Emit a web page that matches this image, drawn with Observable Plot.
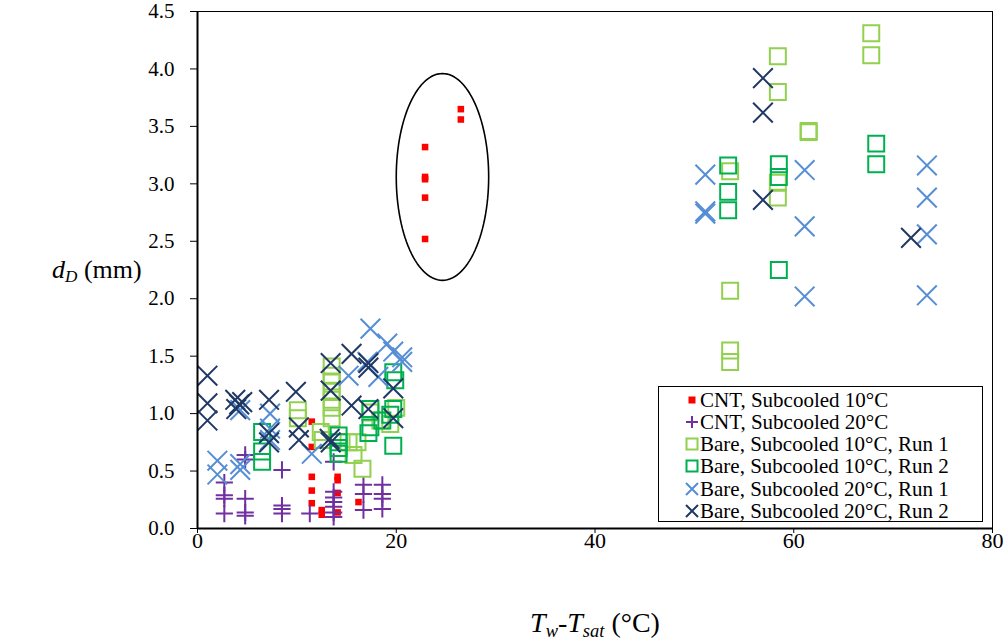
<!DOCTYPE html>
<html><head><meta charset="utf-8">
<script src="https://cdn.jsdelivr.net/npm/d3@7"></script>
<script src="https://cdn.jsdelivr.net/npm/@observablehq/plot@0.6"></script>
<style>
body{margin:0;background:#fff;}
#wrap{position:relative;width:1007px;height:641px;font-family:'Liberation Serif',LiberationSerif,Tinos,'Times New Roman',Times,'DejaVu Serif',serif;color:#000;}
#wrap svg.plot{position:absolute;left:0;top:0;}
#wrap svg.plot text{font-family:'Liberation Serif',LiberationSerif,Tinos,'Times New Roman',Times,'DejaVu Serif',serif;}
.ylab{position:absolute;left:52px;top:252px;font-size:26px;white-space:nowrap;line-height:36px;}
.xlab{position:absolute;left:395px;width:400px;text-align:center;top:605px;font-size:28px;white-space:nowrap;line-height:36px;}
.legend{position:absolute;left:658px;top:386px;width:323px;height:134px;border:1px solid #000;background:#fff;}
.legend .row{position:absolute;left:0;height:22px;line-height:22px;font-size:21px;white-space:nowrap;}
.legend .row svg{position:absolute;left:25px;top:3px;}
.legend .row span{position:absolute;left:41px;top:0;}
sub{font-size:0.66em;vertical-align:-0.25em;line-height:0;}
</style></head><body><div id="wrap"></div>
<script>
// ---- axis ticks ----
const xTicks = [0, 20, 40, 60, 80];
const yTicks = [0, 0.5, 1.0, 1.5, 2.0, 2.5, 3.0, 3.5, 4.0, 4.5];

// ---- series names ----
const seriesNames = [
  "CNT, Subcooled 10°C",
  "CNT, Subcooled 20°C",
  "Bare, Subcooled 10°C, Run 1",
  "Bare, Subcooled 10°C, Run 2",
  "Bare, Subcooled 20°C, Run 1",
  "Bare, Subcooled 20°C, Run 2"
];

// ---- CNT, Subcooled 10°C ----
const cnt10X = [11.5, 11.5, 11.5, 11.5, 11.5, 12.5, 12.5, 14.1, 14.1, 14.1, 14.1, 16.2, 22.9, 22.9, 22.9, 22.9, 22.9, 26.5, 26.5];
const cnt10Y = [0.93, 0.71, 0.45, 0.33, 0.22, 0.16, 0.12, 0.45, 0.42, 0.31, 0.14, 0.23, 3.32, 3.06, 3.04, 2.88, 2.52, 3.65, 3.56];

// ---- CNT, Subcooled 20°C ----
const cnt20X = [2.7, 2.7, 2.7, 2.7, 4.8, 4.8, 4.8, 4.8, 4.8, 8.5, 8.5, 8.5, 8.5, 11.3, 13.7, 13.7, 13.7, 13.7, 13.7, 13.7, 13.7, 16.7, 16.7, 16.7, 18.6, 18.6, 18.6, 18.6];
const cnt20Y = [0.40, 0.29, 0.26, 0.13, 0.64, 0.60, 0.26, 0.14, 0.11, 0.51, 0.20, 0.17, 0.13, 0.13, 0.58, 0.32, 0.27, 0.23, 0.19, 0.14, 0.10, 0.38, 0.30, 0.16, 0.38, 0.30, 0.26, 0.17];

// ---- Bare, Subcooled 10°C, Run 1 ----
const bare10r1X = [10.1, 10.1, 12.4, 12.6, 13.5, 13.5, 13.5, 13.5, 13.5, 13.5, 13.5, 15.2, 15.7, 16.6, 16.1, 17.4, 18.4, 19.4, 20.0, 53.6, 53.6, 53.6, 53.6, 58.4, 58.4, 58.4, 58.4, 61.5, 61.5, 67.8, 67.8];
const bare10r1Y = [1.03, 0.96, 0.84, 0.77, 1.41, 1.33, 1.28, 1.20, 1.12, 1.05, 0.96, 0.75, 0.64, 0.52, 0.75, 1.01, 0.94, 0.91, 1.05, 3.11, 2.07, 1.55, 1.45, 4.11, 3.80, 3.01, 2.88, 3.46, 3.45, 4.31, 4.12];

// ---- Bare, Subcooled 10°C, Run 2 ----
const bare10r2X = [6.5, 6.5, 6.5, 14.2, 14.2, 14.2, 14.2, 17.4, 17.4, 17.2, 18.6, 19.4, 19.7, 19.9, 19.7, 19.7, 53.4, 53.4, 53.4, 58.5, 58.5, 58.5, 68.3, 68.3];
const bare10r2Y = [0.84, 0.67, 0.58, 0.81, 0.75, 0.70, 0.65, 1.04, 0.88, 0.83, 0.94, 0.99, 1.36, 1.29, 1.04, 0.72, 3.16, 2.93, 2.77, 3.17, 3.06, 2.25, 3.35, 3.17];

// ---- Bare, Subcooled 20°C, Run 1 ----
const bare20r1X = [2.0, 2.0, 4.3, 4.3, 4.3, 7.3, 7.3, 7.3, 11.5, 15.2, 17.1, 17.4, 18.2, 19.1, 19.7, 20.6, 20.6, 51.1, 51.1, 51.1, 61.1, 61.1, 61.1, 73.4, 73.4, 73.4, 73.4];
const bare20r1Y = [0.59, 0.47, 0.56, 0.51, 1.03, 1.00, 0.87, 0.77, 0.65, 1.33, 1.45, 1.74, 1.32, 1.61, 1.54, 1.49, 1.45, 3.08, 2.76, 2.74, 3.12, 2.63, 2.02, 3.16, 2.88, 2.56, 2.03];

// ---- Bare, Subcooled 20°C, Run 2 ----
const bare20r2X = [1.0, 1.0, 1.0, 3.8, 4.2, 3.9, 4.5, 7.2, 7.2, 7.2, 9.9, 10.2, 10.2, 13.4, 13.4, 13.3, 13.4, 15.5, 15.5, 17.2, 17.2, 17.2, 19.7, 19.7, 56.9, 56.9, 56.9, 71.8];
const bare20r2Y = [1.33, 1.09, 0.94, 1.12, 1.08, 1.04, 1.10, 1.12, 0.83, 0.75, 1.19, 0.88, 0.77, 1.44, 1.20, 0.78, 0.75, 1.52, 1.07, 1.44, 1.40, 1.04, 1.22, 0.96, 3.92, 3.62, 2.86, 2.53];

// ---- highlight ellipse (centre and radii in data units) ----
const ellipseCenter = [24.65, 3.06];
const ellipseRadii = [4.65, 0.9];

// ---- styles ----
const colors = ["#FF0000", "#7030A0", "#92D050", "#00B050", "#558ED5", "#1F3864"];
const serif = "'Liberation Serif', LiberationSerif, Tinos, 'Times New Roman', Times, 'DejaVu Serif', serif";

const toRows = (xs, ys) => xs.map((x, i) => ({x, y: ys[i]}));
const s0 = toRows(cnt10X, cnt10Y), s1 = toRows(cnt20X, cnt20Y),
      s2 = toRows(bare10r1X, bare10r1Y), s3 = toRows(bare10r2X, bare10r2Y),
      s4 = toRows(bare20r1X, bare20r1Y), s5 = toRows(bare20r2X, bare20r2Y);

const ell = d3.range(0, 121).map(i => {
  const t = i / 120 * 2 * Math.PI;
  return {x: ellipseCenter[0] + ellipseRadii[0] * Math.cos(t), y: ellipseCenter[1] + ellipseRadii[1] * Math.sin(t)};
});

const chart = Plot.plot({
  width: 1007, height: 641,
  marginLeft: 197, marginRight: 15, marginTop: 11, marginBottom: 113,
  style: {fontFamily: serif, fontSize: "21px", color: "#000", background: "transparent"},
  x: {domain: [0, 80]},
  y: {domain: [0, 4.5]},
  marks: [
    Plot.frame({stroke: "#000", strokeWidth: 1}),
    Plot.axisX({ticks: xTicks, tickSize: 5, tickPadding: -1, label: null, fontSize: 22, tickFormat: d => d}),
    Plot.axisY({ticks: yTicks, tickSize: 7, tickPadding: 16, label: null, fontSize: 21, tickFormat: d3.format(".1f")}),
    Plot.line(ell, {x: "x", y: "y", stroke: "#000", strokeWidth: 1.6}),
    Plot.dot(s0, {x: "x", y: "y", symbol: "square", r: 3.7, fill: colors[0], stroke: "none"}),
    Plot.dot(s1, {x: "x", y: "y", symbol: "plus", r: 5.6, stroke: colors[1], strokeWidth: 2, fill: "none"}),
    Plot.dot(s2, {x: "x", y: "y", symbol: "square", r: 9, stroke: colors[2], strokeWidth: 2, fill: "none"}),
    Plot.dot(s3, {x: "x", y: "y", symbol: "square", r: 9, stroke: colors[3], strokeWidth: 2, fill: "none"}),
    Plot.dot(s4, {x: "x", y: "y", symbol: "times", r: 9, stroke: colors[4], strokeWidth: 2, fill: "none"}),
    Plot.dot(s5, {x: "x", y: "y", symbol: "times", r: 9, stroke: colors[5], strokeWidth: 2, fill: "none"}),
    Plot.ruleX([0], {stroke: "#000", strokeWidth: 2}),
    Plot.ruleY([0], {stroke: "#000", strokeWidth: 2})
  ]
});
chart.classList.add("plot");
const wrap = document.getElementById("wrap");
wrap.appendChild(chart);

// axis titles
const yl = document.createElement("div");
yl.className = "ylab";
yl.innerHTML = '<i>d</i><sub><i>D</i></sub> (mm)';
wrap.appendChild(yl);
const xl = document.createElement("div");
xl.className = "xlab";
xl.innerHTML = '<i>T</i><sub><i>w</i></sub>-<i>T</i><sub><i>sat</i></sub> (°C)';
wrap.appendChild(xl);

// legend
const swatch = [
  '<rect x="4.5" y="4.5" width="7" height="7" fill="' + colors[0] + '"/>',
  '<path d="M2,8H14M8,2V14" stroke="' + colors[1] + '" stroke-width="2" fill="none"/>',
  '<rect x="2.5" y="2.5" width="11" height="11" stroke="' + colors[2] + '" stroke-width="2" fill="none"/>',
  '<rect x="2.5" y="2.5" width="11" height="11" stroke="' + colors[3] + '" stroke-width="2" fill="none"/>',
  '<path d="M2,2L14,14M14,2L2,14" stroke="' + colors[4] + '" stroke-width="2" fill="none"/>',
  '<path d="M2,2L14,14M14,2L2,14" stroke="' + colors[5] + '" stroke-width="2" fill="none"/>'
];
const lg = document.createElement("div");
lg.className = "legend";
seriesNames.forEach((name, i) => {
  const r = document.createElement("div");
  r.className = "row";
  r.style.top = (2 + i * 22.15) + "px";
  r.innerHTML = '<svg width="16" height="16" viewBox="0 0 16 16">' + swatch[i] + '</svg><span>' + name + '</span>';
  lg.appendChild(r);
});
wrap.appendChild(lg);
</script>
</body></html>
